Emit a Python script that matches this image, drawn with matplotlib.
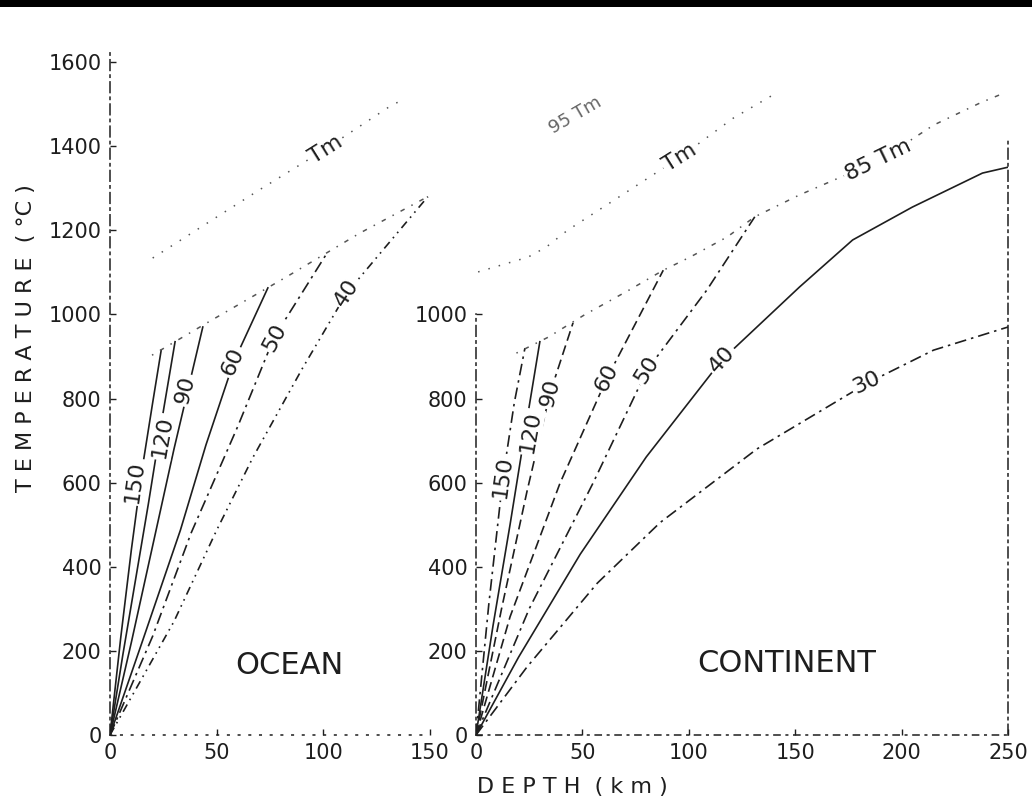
import matplotlib.pyplot as plt
from matplotlib.patches import Rectangle

plt.rcParams["font.family"] = ["DejaVu Sans"]

# ---- data (depth km, temperature degC) ----
# ocean geotherms, labelled by surface heat flow
ocean_labels = ["150", "120", "90", "60", "50", "40"]
ocean_x = [
    [0, 5, 10, 15, 20, 24],
    [0, 6, 12, 18, 24, 30.5],
    [0, 10, 20, 30, 43.5],
    [0, 15, 33, 45, 58, 74],
    [0, 20, 38, 60, 77, 102],
    [0, 30, 50, 67, 90, 111, 149],
]
ocean_T = [
    [0, 230, 440, 630, 790, 915],
    [0, 190, 370, 550, 740, 935],
    [0, 220, 450, 680, 970],
    [0, 220, 487, 690, 887, 1063],
    [0, 235, 480, 735, 946, 1148],
    [0, 270, 487, 660, 870, 1051, 1280],
]
ocean_tm_x = [20, 48, 70, 100, 131, 137]
ocean_tm_T = [1134, 1225, 1296, 1390, 1494, 1510]
ocean_85tm_x = [19.7, 45.5, 83, 117, 149]
ocean_85tm_T = [903, 980, 1090, 1193, 1280]

# continent geotherms
cont_labels = ["150", "120", "90", "60", "50", "40", "30"]
cont_x = [
    [0, 6, 12.7, 18, 23],
    [0, 8, 16, 23, 30],
    [0, 12, 24, 34.8, 45.6],
    [0, 16, 39.5, 61.6, 88],
    [0, 25, 55, 80.4, 108.5, 131],
    [0, 20, 49, 80, 115.6, 152, 177, 205, 238, 250],
    [0, 24, 57, 86.5, 132, 184, 215, 250],
]
cont_T = [
    [0, 310, 613, 790, 920],
    [0, 260, 500, 720, 935],
    [0, 300, 580, 813, 980],
    [0, 281, 599, 849, 1105],
    [0, 300, 599, 868, 1058, 1232],
    [0, 185, 430, 661, 892, 1065, 1177, 1255, 1336, 1350],
    [0, 162, 361, 505, 680, 837, 915, 970],
]
cont_tm_x = [1, 24.4, 33, 43, 65, 96, 121, 141]
cont_tm_T = [1101, 1136, 1160, 1200, 1272, 1374, 1467, 1526]
cont_85tm_x = [19, 34, 51, 72, 88, 100.5, 118, 131, 152, 190, 215, 237, 248]
cont_85tm_T = [908, 946, 999, 1058, 1105, 1136, 1184, 1232, 1284, 1367, 1450, 1503, 1526]

# label placement (depth, temperature, angle)
ocean_lab_pos = [(11.7, 602, 82), (24.4, 709, 80), (35.2, 820, 76),
                 (57.7, 887, 66), (77.4, 946, 62), (111, 1051, 57)]
cont_lab_pos = [(12.7, 613, 82), (25.4, 720, 80), (34.8, 813, 76),
                (61.6, 849, 63), (80.4, 868, 58), (115.6, 892, 48), (183.7, 837, 25)]

dashdot = (0, (7, 3, 1.5, 3))
dashdot2 = (0, (5, 3, 1, 3, 1, 3))
ocean_styles = ["-", "-", "-", "-", dashdot, dashdot2]
cont_styles = [dashdot, "-", (0, (6, 3)), (0, (6, 3)), dashdot, "-", dashdot]

ink = "#1e1e1e"
fig = plt.figure(figsize=(10.32, 8.05), dpi=100)

px_T = 0.4206  # px per degC
ytop = 1700
ax_b = 70 / 805
ax_h = ytop * px_T / 805
ax1 = fig.add_axes([110 / 1032, ax_b, 320 / 1032, ax_h])
ax2 = fig.add_axes([476 / 1032, ax_b, 532 / 1032, ax_h])
for ax in (ax1, ax2):
    ax.set_facecolor("none")
    ax.set_ylim(0, ytop)
    ax.tick_params(direction="in", length=4, width=1, labelsize=15, pad=6, colors=ink)
    ax.spines["top"].set_visible(False)

ax1.set_xlim(0, 150)
ax1.spines["right"].set_visible(False)
ax1.spines["left"].set_bounds(0, 1630)
ax1.spines["left"].set_linestyle(dashdot)
ax1.spines["bottom"].set_linestyle((0, (1, 6)))
ax1.set_yticks(range(0, 1601, 200))
ax1.set_xticks([0, 50, 100, 150])

ax2.set_xlim(0, 250)
ax2.spines["left"].set_bounds(0, 1000)
ax2.spines["right"].set_bounds(0, 1420)
ax2.spines["left"].set_linestyle(dashdot)
ax2.spines["right"].set_linestyle(dashdot)
ax2.spines["bottom"].set_linestyle((0, (4, 4, 1, 4)))
ax2.set_yticks(range(0, 1001, 200))
ax2.set_xticks([0, 50, 100, 150, 200, 250])
for ax in (ax1, ax2):
    for s in ax.spines.values():
        s.set_color(ink)
        s.set_linewidth(1.1)

lab_kw = dict(fontsize=16, color=ink, ha="center", va="center",
              bbox=dict(boxstyle="square,pad=0.1", fc="white", ec="none"))

for xs, ts, st in zip(ocean_x, ocean_T, ocean_styles):
    ax1.plot(xs, ts, color=ink, lw=1.2, ls=st)
for lab, (x, t, a) in zip(ocean_labels, ocean_lab_pos):
    ax1.text(x, t, lab, rotation=a, **lab_kw)
ax1.plot(ocean_tm_x, ocean_tm_T, color="#555", lw=1.1, ls=(0, (1, 6)))
ax1.plot(ocean_85tm_x, ocean_85tm_T, color="#555", lw=1.1, ls=(0, (1, 5, 3, 5)))
ax1.text(101, 1391, "Tm", rotation=32, **lab_kw)
ax1.text(84, 166, "OCEAN", fontsize=22, color=ink, ha="center", va="center")

for xs, ts, st in zip(cont_x, cont_T, cont_styles):
    ax2.plot(xs, ts, color=ink, lw=1.2, ls=st)
for lab, (x, t, a) in zip(cont_labels, cont_lab_pos):
    ax2.text(x, t, lab, rotation=a, **lab_kw)
ax2.plot(cont_tm_x, cont_tm_T, color="#555", lw=1.1, ls=(0, (1, 6)))
ax2.plot(cont_85tm_x, cont_85tm_T, color="#555", lw=1.1, ls=(0, (1, 5, 3, 5)))
ax2.text(95.9, 1374, "Tm", rotation=32, **lab_kw)
ax2.text(189, 1367, "85 Tm", rotation=26, **lab_kw)
ax2.text(46.5, 1474, "95 Tm", rotation=30, fontsize=13, color="#666",
          ha="center", va="center")
ax2.text(146, 171, "CONTINENT", fontsize=22, color=ink, ha="center", va="center")

fig.text(26 / 1032, 1 - 338 / 805, "T E M P E R A T U R E  ( °C )",
         rotation=90, fontsize=16, color=ink, ha="center", va="center")
fig.text(572 / 1032, 1 - 787 / 805, "D E P T H  ( k m )",
         fontsize=16, color=ink, ha="center", va="center")

# dark scan edge along the top
fig.add_artist(Rectangle((0, 1 - 7 / 805), 1, 7 / 805, transform=fig.transFigure,
                         color="black", lw=0))

fig.savefig("out.png", dpi=100)
